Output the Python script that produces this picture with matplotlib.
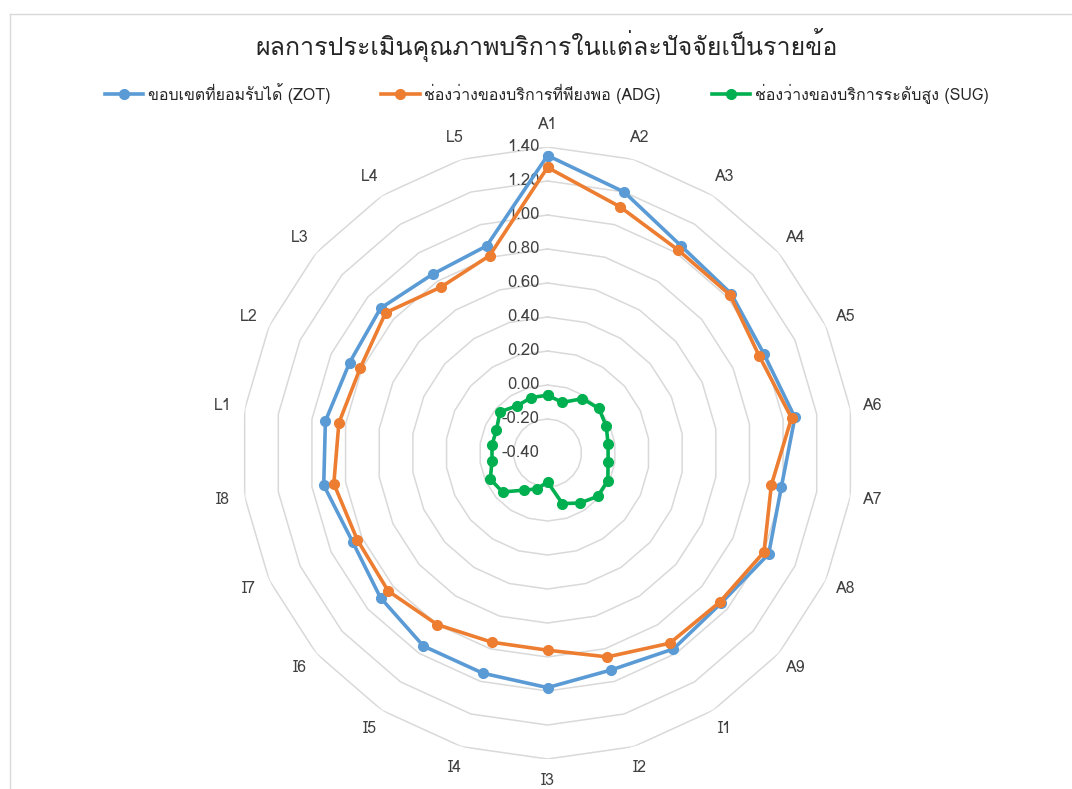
import numpy as np
import matplotlib
matplotlib.use('Agg')
import matplotlib.pyplot as plt
from matplotlib import font_manager
from matplotlib.ft2font import FT2Font

categories = ['A1', 'A2', 'A3', 'A4', 'A5', 'A6', 'A7', 'A8', 'A9',
              'I1', 'I2', 'I3', 'I4', 'I5', 'I6', 'I7', 'I8',
              'L1', 'L2', 'L3', 'L4', 'L5']
zot = [1.35, 1.20, 1.05, 1.03, 1.00, 1.07, 0.99, 1.03, 0.95, 0.97, 0.93,
       0.98, 0.95, 0.95, 0.90, 0.86, 0.93, 0.92, 0.88, 0.90, 0.85, 0.87]
adg = [1.28, 1.11, 1.02, 1.02, 0.97, 1.05, 0.93, 1.00, 0.94, 0.93, 0.85,
       0.76, 0.76, 0.80, 0.84, 0.83, 0.87, 0.84, 0.81, 0.86, 0.76, 0.81]
sug = [-0.06, -0.09, -0.02, 0.00, -0.02, -0.04, -0.04, -0.01, -0.01, -0.05, -0.09,
       -0.23, -0.18, -0.14, -0.05, -0.03, -0.07, -0.07, -0.07, -0.03, -0.07, -0.06]
series_names = ['ขอบเขตที่ยอมรับได้ (ZOT)', 'ช่องว่างของบริการที่พียงพอ (ADG)',
                'ช่องว่างของบริการระดับสูง (SUG)']
title = 'ผลการประเมินคุณภาพบริการในแต่ละปัจจัยเป็นรายข้อ'
r_ticks = [-0.4, -0.2, 0.0, 0.2, 0.4, 0.6, 0.8, 1.0, 1.2, 1.4]


def find_thai_font():
    # pick the first installed font that has Thai glyphs
    for f in font_manager.fontManager.ttflist:
        try:
            if 0x0E1C in FT2Font(f.fname).get_charmap():
                return f.name
        except Exception:
            pass
    return 'DejaVu Sans'


thai = find_thai_font()
plt.rcParams['font.family'] = [thai, 'DejaVu Sans']

colors = ['#5B9BD5', '#ED7D31', '#00B050']
n = len(categories)
theta = np.linspace(0, 2 * np.pi, n, endpoint=False)
theta_c = np.append(theta, theta[0])

fig = plt.figure(figsize=(10.72, 7.89), dpi=100)
ax = fig.add_axes([0.2253, 0.038, 0.5709, 0.7757], projection='polar')
ax.set_theta_zero_location('N')
ax.set_theta_direction(-1)
ax.set_ylim(-0.4, 1.4)
ax.grid(False)
ax.spines['polar'].set_visible(False)
ax.set_xticks([])
ax.set_yticks([])
ax.patch.set_alpha(0)

# polygon gridlines
for r in r_ticks[1:]:
    ax.plot(theta_c, [r] * (n + 1), color='#D9D9D9', lw=1.1, zorder=1)

# radial tick labels
for r in r_ticks:
    ax.annotate(f'{r:.2f}', xy=(0, r), xytext=(-6, 0), textcoords='offset points',
                ha='right', va='center', fontsize=12, color='#404040', zorder=2)

# category labels
for t, c in zip(theta, categories):
    ax.text(t, 1.53, c, ha='center', va='center', fontsize=11.5, color='#404040')

for vals, col, name in zip([zot, adg, sug], colors, series_names):
    v = np.append(vals, vals[0])
    ax.plot(theta_c, v, color=col, lw=2.6, marker='o', markersize=7, label=name, zorder=3)

fig.text(0.51, 0.943, title, ha='center', va='center', fontsize=18, color='#262626')
fig.legend(loc='center', bbox_to_anchor=(0.51, 0.882), ncol=3, frameon=False,
           fontsize=11.5, handlelength=2.4, columnspacing=3.2, handletextpad=0.3,
           labelcolor='#262626')

# chart border (left and top)
fig.add_artist(plt.Line2D([10 / 1072, 10 / 1072], [0, 1 - 14 / 789],
                          transform=fig.transFigure, color='#D9D9D9', lw=1))
fig.add_artist(plt.Line2D([10 / 1072, 1], [1 - 14 / 789, 1 - 14 / 789],
                          transform=fig.transFigure, color='#D9D9D9', lw=1))

fig.savefig('out.png', dpi=100)
